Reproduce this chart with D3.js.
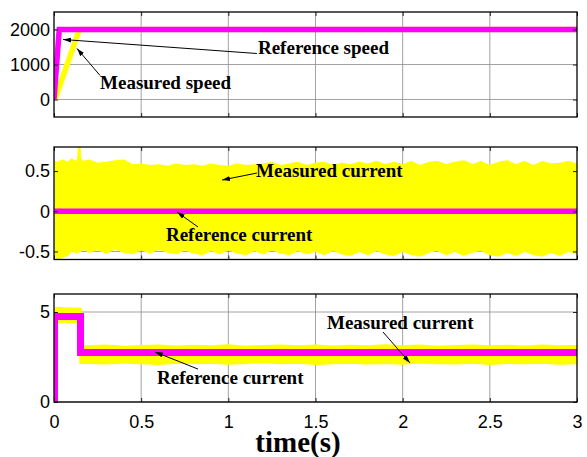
<!DOCTYPE html>
<html>
<head>
<meta charset="utf-8">
<script src="https://cdn.jsdelivr.net/npm/d3@7"></script>
<style>
  body { margin: 0; background: #fff; }
  .tickText { font-family: Arial, "Liberation Sans", sans-serif; font-size: 18px; fill: #000; }
  .note { font-family: "Times New Roman", "Liberation Serif", serif; font-weight: bold; font-size: 19px; fill: #000; }
</style>
</head>
<body>
<div id="chart"></div>
<script>
// x ticks shared by the three panels
var xTicks = [0, 0.5, 1, 1.5, 2, 2.5, 3];

// Panel 1: speed (rpm)
var refSpeedT = [0, 0.03, 3];
var refSpeedV = [0, 2000, 2000];
var measSpeedT = [0.006, 0.145, 3];
var measSpeedV = [0, 2000, 2000];
var speedTicks = [0, 1000, 2000];

// Panel 2: current, reference at zero, measured shown as its envelope
var refIdT = [0, 3];
var refIdV = [0, 0];
var measIdT = [0, 0.02, 0.05, 0.08, 0.1, 0.13, 0.14, 0.145, 0.15, 0.17,
  0.2, 0.25, 0.3, 0.35, 0.4, 0.45, 0.5, 0.55, 0.6, 0.65, 0.7, 0.75, 0.8, 0.85, 0.9, 0.95,
  1.0, 1.05, 1.1, 1.15, 1.2, 1.25, 1.3, 1.35, 1.4, 1.45, 1.5, 1.55, 1.6, 1.65, 1.7, 1.75,
  1.8, 1.85, 1.9, 1.95, 2.0, 2.05, 2.1, 2.15, 2.2, 2.25, 2.3, 2.35, 2.4, 2.45, 2.5, 2.55,
  2.6, 2.65, 2.7, 2.75, 2.8, 2.85, 2.9, 2.95, 3.0];
var measIdHi = [0.61, 0.60, 0.63, 0.60, 0.64, 0.61, 0.65, 0.82, 0.64, 0.61,
  0.63, 0.59, 0.60, 0.62, 0.63, 0.57, 0.58, 0.56, 0.57, 0.55, 0.58, 0.56, 0.57, 0.55, 0.58, 0.56,
  0.55, 0.58, 0.56, 0.57, 0.58, 0.60, 0.56, 0.58, 0.60, 0.56, 0.59, 0.60, 0.56, 0.59, 0.57, 0.60,
  0.58, 0.61, 0.57, 0.60, 0.57, 0.61, 0.56, 0.60, 0.61, 0.57, 0.60, 0.62, 0.57, 0.61, 0.56, 0.60,
  0.62, 0.57, 0.61, 0.56, 0.61, 0.58, 0.59, 0.61, 0.58];
var measIdLo = [-0.52, -0.59, -0.56, -0.54, -0.48, -0.51, -0.47, -0.50, -0.49, -0.46,
  -0.50, -0.47, -0.51, -0.46, -0.50, -0.52, -0.47, -0.51, -0.46, -0.50, -0.52, -0.47, -0.51, -0.53, -0.48, -0.52,
  -0.47, -0.51, -0.53, -0.48, -0.52, -0.47, -0.51, -0.53, -0.48, -0.52, -0.49, -0.53, -0.48, -0.52, -0.54, -0.49,
  -0.53, -0.48, -0.52, -0.54, -0.49, -0.53, -0.55, -0.50, -0.48, -0.53, -0.49, -0.54, -0.50, -0.48, -0.53, -0.55,
  -0.50, -0.54, -0.49, -0.53, -0.55, -0.50, -0.54, -0.49, -0.52];
var idTicks = [-0.5, 0, 0.5];

// Panel 3: current, step reference and measured envelope
var refIqT = [0, 0.003, 0.003, 0.152, 0.152, 3];
var refIqV = [0, 0, 4.75, 4.75, 2.75, 2.75];
var measIqT = [0, 0.03, 0.06, 0.09, 0.12, 0.152, 0.152,
  0.2, 0.3, 0.4, 0.5, 0.6, 0.7, 0.8, 0.9, 1.0, 1.1, 1.2, 1.3, 1.4, 1.5, 1.6, 1.7, 1.8, 1.9,
  2.0, 2.1, 2.2, 2.3, 2.4, 2.5, 2.6, 2.7, 2.8, 2.9, 3.0];
var measIqHi = [5.20, 5.22, 5.18, 5.20, 5.17, 5.18, 3.10,
  3.08, 3.12, 3.06, 3.10, 3.13, 3.07, 3.11, 3.09, 3.14, 3.06, 3.10, 3.12, 3.08, 3.13, 3.07, 3.11, 3.09,
  3.14, 3.08, 3.12, 3.06, 3.10, 3.13, 3.08, 3.11, 3.07, 3.12, 3.09, 3.10];
var measIqLo = [4.45, 4.42, 4.48, 4.44, 4.46, 4.45, 2.18,
  2.18, 2.15, 2.21, 2.17, 2.13, 2.19, 2.16, 2.20, 2.14, 2.18, 2.22, 2.16, 2.19, 2.13, 2.17, 2.20, 2.15,
  2.18, 2.14, 2.21, 2.17, 2.15, 2.19, 2.13, 2.18, 2.16, 2.20, 2.14, 2.17];
var iqTicks = [0, 5];

// Annotations, anchored in data units: label baseline-left, arrow tail -> head
var speedNotes = [
  { text: "Reference speed", t: 1.17, v: 1314, t1: 1.164, v1: 1314, t2: 0.052, v2: 1714 },
  { text: "Measured speed", t: 0.264, v: 314, t1: 0.264, v1: 686, t2: 0.132, v2: 1457 }
];
var idNotes = [
  { text: "Measured current", t: 1.159, v: 0.427, t1: 1.164, v1: 0.476, t2: 0.964, v2: 0.389 },
  { text: "Reference current", t: 0.642, v: -0.369, t1: 0.826, v1: -0.195, t2: 0.706, v2: -0.01 }
];
var iqNotes = [
  { text: "Measured current", t: 1.566, v: 4.06, t1: 1.887, v1: 3.89, t2: 2.042, v2: 2.17 },
  { text: "Reference current", t: 0.591, v: 1.0, t1: 0.826, v1: 1.83, t2: 0.579, v2: 2.78 }
];

var svgWidth = 587;
var svgHeight = 457;
var chartLeft = 54;
var chartRight = 577;

var svg = d3.select("#chart")
  .append("svg")
  .attr("width", svgWidth)
  .attr("height", svgHeight);

svg.append("defs").append("marker")
  .attr("id", "head")
  .attr("markerUnits", "userSpaceOnUse")
  .attr("viewBox", "0 -4 8 8")
  .attr("refX", 8)
  .attr("refY", 0)
  .attr("markerWidth", 8)
  .attr("markerHeight", 8)
  .attr("orient", "auto")
  .append("path")
  .attr("d", "M0,-2.5L8,0L0,2.5Z")
  .attr("fill", "#000");

var x = d3.scaleLinear().domain([0, 3]).range([chartLeft, chartRight]);

// Draws the frame, grid and ticks of one panel and returns its y scale and groups
function makePanel(id, top, bottom, yDomain, yTicks, showX) {
  var y = d3.scaleLinear().domain(yDomain).range([bottom, top]);
  var g = svg.append("g");

  g.append("clipPath").attr("id", "clip" + id)
    .append("rect")
    .attr("x", chartLeft).attr("y", top)
    .attr("width", chartRight - chartLeft).attr("height", bottom - top);

  // grid
  g.selectAll(".vgrid").data(xTicks.slice(1, -1)).enter()
    .append("line")
    .attr("x1", d => x(d)).attr("x2", d => x(d))
    .attr("y1", top).attr("y2", bottom)
    .attr("stroke", "#8a8a8a").attr("stroke-width", 0.8);
  g.selectAll(".hgrid").data(yTicks).enter()
    .append("line")
    .attr("x1", chartLeft).attr("x2", chartRight)
    .attr("y1", d => y(d)).attr("y2", d => y(d))
    .attr("stroke", "#8a8a8a").attr("stroke-width", 0.8);

  var plot = g.append("g").attr("clip-path", "url(#clip" + id + ")");
  var over = svg.append("g");

  // axes with inward ticks on all four sides
  var left = over.append("g")
    .attr("transform", `translate(${chartLeft},0)`)
    .call(d3.axisLeft(y).tickValues(yTicks).tickSize(-4).tickPadding(4).tickFormat(d => String(d)));
  over.append("g")
    .attr("transform", `translate(${chartRight},0)`)
    .call(d3.axisRight(y).tickValues(yTicks).tickSize(-4).tickFormat(""));
  var bottomAxis = over.append("g")
    .attr("transform", `translate(0,${bottom})`)
    .call(d3.axisBottom(x).tickValues(xTicks).tickSize(-4).tickPadding(13)
      .tickFormat(showX ? (d => String(d)) : ""));
  over.append("g")
    .attr("transform", `translate(0,${top})`)
    .call(d3.axisTop(x).tickValues(xTicks).tickSize(-4).tickFormat(""));

  over.selectAll(".domain").remove();
  over.selectAll(".tick line").attr("stroke", "#222");
  left.selectAll("text").attr("class", "tickText");
  bottomAxis.selectAll("text").attr("class", "tickText");

  over.append("rect")
    .attr("x", chartLeft).attr("y", top)
    .attr("width", chartRight - chartLeft).attr("height", bottom - top)
    .attr("fill", "none").attr("stroke", "#000").attr("stroke-width", 1.3);

  return { y: y, plot: plot, over: over };
}

function drawLine(panel, T, V, color, width) {
  var line = d3.line()
    .x(d => x(d[0]))
    .y(d => panel.y(d[1]));
  panel.plot.append("path")
    .datum(d3.zip(T, V))
    .attr("d", line)
    .attr("fill", "none")
    .attr("stroke", color)
    .attr("stroke-width", width)
    .attr("stroke-linejoin", "miter");
}

function drawBand(panel, T, lo, hi, color) {
  var area = d3.area()
    .x(d => x(d[0]))
    .y0(d => panel.y(d[1]))
    .y1(d => panel.y(d[2]));
  panel.plot.append("path")
    .datum(d3.zip(T, lo, hi))
    .attr("d", area)
    .attr("fill", color)
    .attr("stroke", color)
    .attr("stroke-width", 2.5)
    .attr("stroke-linejoin", "round");
}

function drawNotes(panel, notes) {
  notes.forEach(function (n) {
    panel.over.append("line")
      .attr("x1", x(n.t1)).attr("y1", panel.y(n.v1))
      .attr("x2", x(n.t2)).attr("y2", panel.y(n.v2))
      .attr("stroke", "#000").attr("stroke-width", 1)
      .attr("marker-end", "url(#head)");
    panel.over.append("text")
      .attr("class", "note")
      .attr("x", x(n.t)).attr("y", panel.y(n.v))
      .text(n.text);
  });
}

var yellow = "#ffff00";
var pink = "#ff00ff";

// speed
var p1 = makePanel(1, 12, 117, [-500, 2500], speedTicks, false);
drawLine(p1, measSpeedT, measSpeedV, yellow, 5.5);
drawLine(p1, refSpeedT, refSpeedV, pink, 5.5);
drawNotes(p1, speedNotes);

// current around zero
var p2 = makePanel(2, 147, 259.5, [-0.6, 0.8], idTicks, false);
drawBand(p2, measIdT, measIdLo, measIdHi, yellow);
drawLine(p2, refIdT, refIdV, pink, 5.5);
drawNotes(p2, idNotes);

// current step
var p3 = makePanel(3, 294, 402, [0, 6], iqTicks, true);
drawBand(p3, measIqT, measIqLo, measIqHi, yellow);
drawLine(p3, refIqT, refIqV, pink, 7);
drawNotes(p3, iqNotes);

svg.append("text")
  .attr("x", 298)
  .attr("y", 452)
  .attr("text-anchor", "middle")
  .style("font-family", "'Times New Roman', 'Liberation Serif', serif")
  .style("font-weight", "bold")
  .style("font-size", "29px")
  .text("time(s)");
</script>
</body>
</html>
